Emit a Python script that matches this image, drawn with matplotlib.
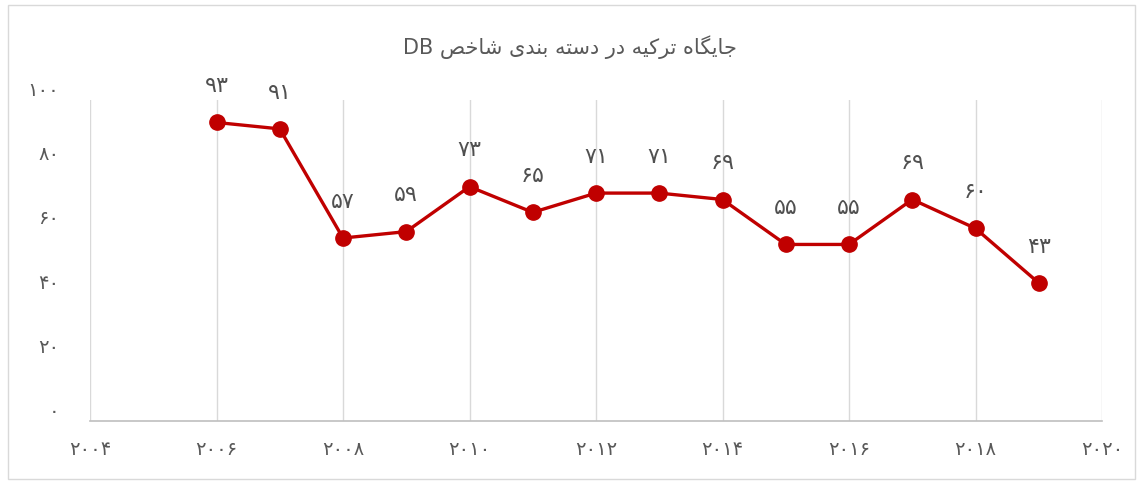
import matplotlib
matplotlib.use("Agg")
import matplotlib.pyplot as plt
from matplotlib.patches import Rectangle

# داده‌ها
years = [2006, 2007, 2008, 2009, 2010, 2011, 2012, 2013, 2014, 2015, 2016, 2017, 2018, 2019]
ranks = [93, 91, 57, 59, 73, 65, 71, 71, 69, 55, 55, 69, 60, 43]
x_ticks = [2004, 2006, 2008, 2010, 2012, 2014, 2016, 2018, 2020]
y_ticks = [0, 20, 40, 60, 80, 100]

# "جایگاه ترکیه در دسته بندی شاخص DB" - shaped by hand, visual order
title_words = [
    "\uFE9F\uFE8E\uFBFE\uFB95\uFE8E\uFEE9",  # جایگاه
    "\uFE97\uFEAE\uFB90\uFBFF\uFEEA",        # ترکیه
    "\uFEA9\uFEAD",                          # در
    "\uFEA9\uFEB3\uFE98\uFEEA",              # دسته
    "\uFE91\uFEE8\uFEAA\uFBFC",              # بندی
    "\uFEB7\uFE8E\uFEA7\uFEBA",              # شاخص
]
title = "DB " + " ".join(w[::-1] for w in reversed(title_words))

FA_DIGITS = str.maketrans("0123456789", "\u06F0\u06F1\u06F2\u06F3\u06F4\u06F5\u06F6\u06F7\u06F8\u06F9")


def fa(n):
    return str(n).translate(FA_DIGITS)


plt.rcParams['font.family'] = ['DejaVu Sans']

fig = plt.figure(figsize=(11.43, 4.83), dpi=100)
ax = fig.add_axes([90 / 1143, 62 / 483, (1102 - 90) / 1143, (421 - 100) / 483])

ax.plot(years, ranks, color="#C00000", linewidth=2.4, marker="o", markersize=11, zorder=3)

for x, v in zip(years, ranks):
    ax.annotate(fa(v), (x, v), xytext=(0, 19), textcoords="offset points",
                ha="center", va="bottom", fontsize=16, color="#505050")

ax.set_xlim(2004, 2020)
ax.set_ylim(0, 100)
ax.set_xticks(x_ticks)
ax.set_xticklabels([fa(t) for t in x_ticks])
ax.set_yticks(y_ticks)
ax.set_yticklabels([fa(t) for t in y_ticks])
ax.tick_params(axis="both", length=0, labelsize=14, labelcolor="#595959")
ax.tick_params(axis="y", pad=22)
ax.tick_params(axis="x", pad=14)
for lab in ax.get_yticklabels():
    lab.set_va("bottom")

ax.grid(axis="x", color="#D9D9D9", linewidth=1)
ax.set_axisbelow(True)
for s in ["top", "right", "left"]:
    ax.spines[s].set_visible(False)
ax.spines["bottom"].set_color("#BFBFBF")
ax.spines["bottom"].set_linewidth(1.2)

fig.text(570 / 1143, 1 - 47 / 483, title, ha="center", va="center", fontsize=15, color="#595959")

fig.patches.append(Rectangle((8 / 1143, 4 / 483), 1127 / 1143, 474 / 483, transform=fig.transFigure,
                             fill=False, edgecolor="#D9D9D9", linewidth=1))

fig.savefig("out.png", dpi=100)
